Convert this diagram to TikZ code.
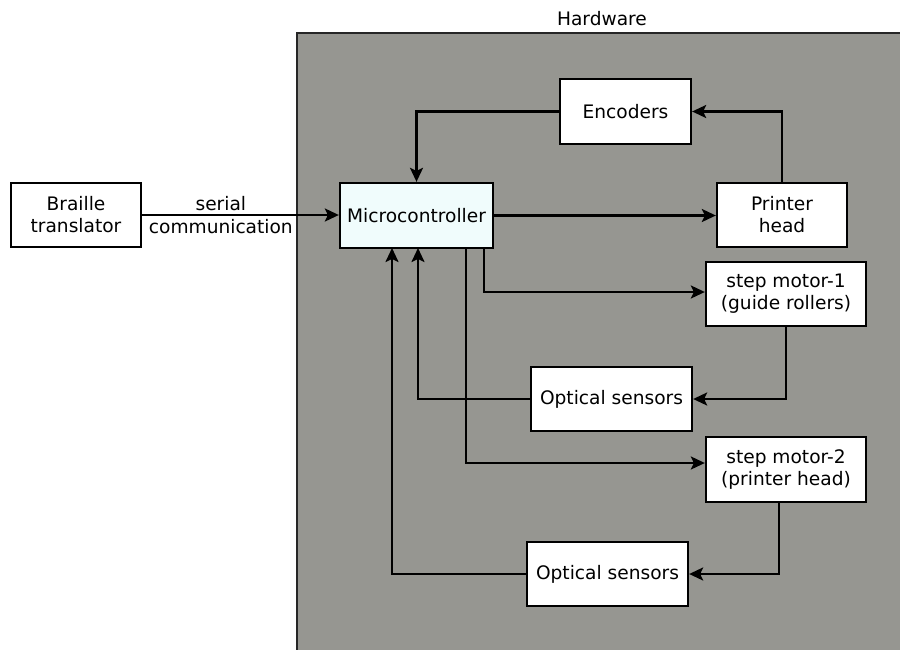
\documentclass[tikz,border=0pt]{standalone}
\usepackage{fontspec}
\setmainfont{DejaVu Sans}
\usetikzlibrary{arrows.meta}
\definecolor{hwgray}{RGB}{150,150,145}
\definecolor{mcufill}{RGB}{240,252,252}
\begin{document}
\begin{tikzpicture}[x=0.5pt,y=-0.5pt,
  font=\fontsize{9.3}{11}\selectfont,
  box/.style={draw,line width=1.15pt,fill=white,align=center,inner sep=2pt},
  link/.style={line width=1.15pt,-{Stealth[length=7pt,width=6.5pt,inset=1.5pt]}}]
\useasboundingbox (0,0) rectangle (900,649);
\fill[hwgray] (297,33) rectangle (905,655);
\draw[line width=1.1pt,black!85] (297,655) -- (297,33) -- (905,33);
\node (hw) at (602,19) {Hardware};
\node[box,minimum width=65pt,minimum height=32pt] (braille) at (76,215) {Braille\\translator};
\node[box,fill=mcufill,minimum width=76.5pt,minimum height=32.5pt] (mcu) at (416.5,215.5) {Microcontroller};
\node[box,minimum width=65.5pt,minimum height=32.5pt] (enc) at (625.5,111.5) {Encoders};
\node[box,minimum width=65pt,minimum height=32pt] (head) at (782,215) {Printer\\head};
\node[box,minimum width=80pt,minimum height=32pt] (motorA) at (786,294) {step motor-1\\(guide rollers)};
\node[box,minimum width=80.5pt,minimum height=32pt] (optA) at (611.5,399) {Optical sensors};
\node[box,minimum width=80pt,minimum height=32.5pt] (motorB) at (786,469.5) {step motor-2\\(printer head)};
\node[box,minimum width=80.5pt,minimum height=32pt] (optB) at (607.5,574) {Optical sensors};
% ports on the bottom of the microcontroller
\coordinate (inB) at (392,248);
\coordinate (inA) at (418,248);
\coordinate (outB) at (466,248);
\coordinate (outA) at (484,248);
% serial line
\draw[link] (braille.east) -- (braille.east -| mcu.west)
  node[above,pos=0.4,inner sep=1.5pt] {serial}
  node[below,pos=0.4,inner sep=1.5pt] {communication};
% printer head loop
\draw[link] (mcu.east) -- (mcu.east -| head.west);
\draw[link] (head.north) |- (enc.east);
\draw[link] (enc.west) -| (mcu.north);
% step motor 1
\draw[link] (outA) |- ([yshift=1pt]motorA.west);
\draw[link] (motorA.south) |- (optA.east);
\draw[link] (optA.west) -| (inA);
% step motor 2
\draw[link] (outB) |- ([yshift=3.25pt]motorB.west);
\draw[link] ([xshift=-3.5pt]motorB.south) |- (optB.east);
\draw[link] (optB.west) -| (inB);
\end{tikzpicture}
\end{document}
